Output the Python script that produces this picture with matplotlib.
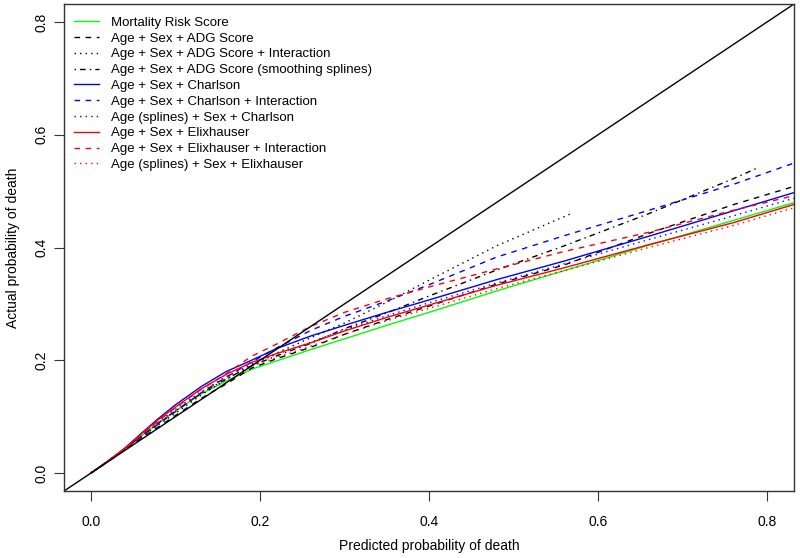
import matplotlib
matplotlib.use("Agg")
import matplotlib.pyplot as plt

plt.rcParams['font.family'] = ['Liberation Sans', 'DejaVu Sans']

# readings from the calibration plot (predicted vs actual probability of death)
x_grid = [0, 0.02, 0.04, 0.06, 0.08, 0.10, 0.13, 0.16, 0.19, 0.22, 0.26, 0.30,
          0.35, 0.40, 0.48, 0.56, 0.66, 0.76, 0.84]

mrs = [0, 0.021, 0.043, 0.066, 0.089, 0.110, 0.140, 0.163, 0.184, 0.199, 0.219,
       0.238, 0.262, 0.285, 0.323, 0.359, 0.404, 0.448, 0.483]
adg = [0, 0.020, 0.041, 0.062, 0.082, 0.102, 0.132, 0.158, 0.186, 0.203, 0.223,
       0.246, 0.272, 0.296, 0.335, 0.369, 0.425, 0.476, 0.512]
charlson = [0, 0.021, 0.044, 0.071, 0.097, 0.121, 0.153, 0.180, 0.200, 0.221, 0.243,
            0.262, 0.285, 0.307, 0.343, 0.376, 0.420, 0.465, 0.501]
charlson_int = [0, 0.021, 0.042, 0.065, 0.087, 0.109, 0.142, 0.170, 0.197, 0.222, 0.253,
                0.278, 0.305, 0.334, 0.383, 0.421, 0.466, 0.512, 0.554]
charlson_spl = [0, 0.021, 0.043, 0.067, 0.091, 0.113, 0.144, 0.171, 0.193, 0.211, 0.232,
                0.254, 0.279, 0.302, 0.337, 0.371, 0.414, 0.456, 0.491]
elix = [0, 0.021, 0.044, 0.070, 0.095, 0.117, 0.149, 0.175, 0.196, 0.212, 0.231,
        0.252, 0.276, 0.298, 0.333, 0.364, 0.405, 0.444, 0.480]
elix_int = [0, 0.021, 0.043, 0.068, 0.093, 0.116, 0.148, 0.176, 0.207, 0.229, 0.260,
            0.285, 0.309, 0.330, 0.362, 0.393, 0.427, 0.466, 0.495]
elix_spl = [0, 0.021, 0.043, 0.067, 0.090, 0.112, 0.143, 0.169, 0.190, 0.205, 0.225,
            0.246, 0.270, 0.292, 0.327, 0.359, 0.400, 0.439, 0.474]

# shorter curves
x_adg_int = [0, 0.02, 0.04, 0.06, 0.08, 0.10, 0.13, 0.16, 0.19, 0.22, 0.26, 0.30,
             0.35, 0.40, 0.48, 0.568]
adg_int = [0, 0.021, 0.042, 0.064, 0.086, 0.106, 0.138, 0.166, 0.192, 0.213, 0.240,
           0.266, 0.303, 0.342, 0.403, 0.460]
x_adg_spl = [0, 0.02, 0.04, 0.06, 0.08, 0.10, 0.13, 0.16, 0.19, 0.22, 0.26, 0.30,
             0.35, 0.40, 0.48, 0.56, 0.66, 0.76, 0.79]
adg_spl = [0, 0.021, 0.043, 0.066, 0.089, 0.110, 0.141, 0.167, 0.190, 0.208, 0.230,
           0.256, 0.284, 0.314, 0.360, 0.403, 0.460, 0.522, 0.542]

labels = ["Mortality Risk Score",
          "Age + Sex + ADG Score",
          "Age + Sex + ADG Score + Interaction",
          "Age + Sex + ADG Score (smoothing splines)",
          "Age + Sex + Charlson",
          "Age + Sex + Charlson + Interaction",
          "Age (splines) + Sex + Charlson",
          "Age + Sex + Elixhauser",
          "Age + Sex + Elixhauser + Interaction",
          "Age (splines) + Sex + Elixhauser"]

ticks = [0.0, 0.2, 0.4, 0.6, 0.8]
tick_labels = ["0.0", "0.2", "0.4", "0.6", "0.8"]

dashed = (0, (4, 4))
dotted = (0, (1, 3))
dotdash = (0, (1, 3, 4, 3))

fig = plt.figure(figsize=(8, 5.58), dpi=100)
ax = fig.add_axes([0.08, 0.12, 0.9125, 0.8728])

lw = 1.0
ax.plot(x_grid, mrs, color="#00ff00", lw=lw, ls="-", label=labels[0])
ax.plot(x_grid, adg, color="black", lw=lw, ls=dashed, label=labels[1])
ax.plot(x_adg_int, adg_int, color="black", lw=lw, ls=dotted, label=labels[2])
ax.plot(x_adg_spl, adg_spl, color="black", lw=lw, ls=dotdash, label=labels[3])
ax.plot(x_grid, charlson, color="#0000ff", lw=lw, ls="-", label=labels[4])
ax.plot(x_grid, charlson_int, color="#0000ff", lw=lw, ls=dashed, label=labels[5])
ax.plot(x_grid, charlson_spl, color="#0000ff", lw=lw, ls=dotted, label=labels[6])
ax.plot(x_grid, elix, color="#ff0000", lw=lw, ls="-", label=labels[7])
ax.plot(x_grid, elix_int, color="#ff0000", lw=lw, ls=dashed, label=labels[8])
ax.plot(x_grid, elix_spl, color="#ff0000", lw=lw, ls=dotted, label=labels[9])

# perfect calibration line
ax.axline((0, 0), slope=1, color="black", lw=1.0)

ax.set_xlim(-0.032, 0.832)
ax.set_ylim(-0.032, 0.832)
ax.set_xticks(ticks)
ax.set_xticklabels(tick_labels)
ax.set_yticks(ticks)
ax.set_yticklabels(tick_labels, rotation=90, va="center")
ax.tick_params(direction="out", length=7, width=0.8, labelsize=10, color="#333333")
ax.tick_params(axis="x", pad=10)
ax.tick_params(axis="y", pad=4)
for s in ax.spines.values():
    s.set_linewidth(1.0)
    s.set_color("#333333")

ax.set_xlabel("Predicted probability of death", fontsize=10)
ax.set_ylabel("Actual probability of death", fontsize=10)
ax.xaxis.set_label_coords(0.5, -0.099)
ax.yaxis.set_label_coords(-0.06, 0.5)

ax.legend(loc="upper left", bbox_to_anchor=(-0.004, 1.0), frameon=False,
          fontsize=9.5, handlelength=1.9, handletextpad=0.95, labelspacing=0.27,
          borderaxespad=0.55)

fig.savefig("out.png", dpi=100)
